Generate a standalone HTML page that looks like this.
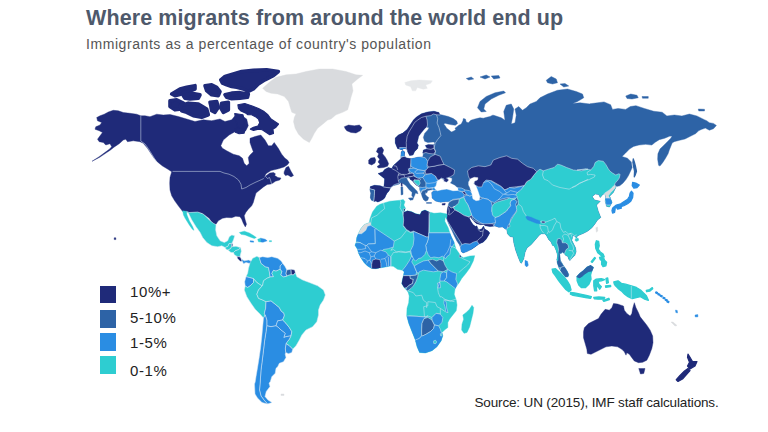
<!DOCTYPE html>
<html><head><meta charset="utf-8">
<style>
html,body{margin:0;padding:0;background:#fff;}
body{width:768px;height:432px;overflow:hidden;position:relative;font-family:"Liberation Sans",sans-serif;}
#title{position:absolute;left:86px;top:5.6px;font-size:21.5px;font-weight:bold;color:#4e596b;white-space:nowrap;line-height:24px;letter-spacing:.1px;}
#sub{position:absolute;left:86px;top:36.1px;font-size:14px;color:#555;white-space:nowrap;line-height:16px;letter-spacing:.57px;}
.lg{position:absolute;left:100.4px;width:16px;height:17.5px;}
.lt{position:absolute;left:130px;font-size:15px;letter-spacing:.6px;color:#222;line-height:16px;white-space:nowrap;}
#src{position:absolute;left:474.5px;top:395.2px;font-size:13.5px;color:#222;white-space:nowrap;line-height:16px;letter-spacing:-.15px;}
svg{position:absolute;left:0;top:0;filter:blur(.35px);}
</style></head><body>
<div id="title">Where migrants from around the world end up</div>
<div id="sub">Immigrants as a percentage of country's population</div>
<svg width="768" height="432" viewBox="0 0 768 432">
<defs><clipPath id="af"><path d="M376.7,206.2 380,204.3 383.3,203.2 390,201.2 400,200.3 403.3,199.5 405,201.7 403.8,205 405.5,208.3 403.8,212.3 407.5,210.7 411.7,211.7 415.8,213.7 420,214.5 421.7,211.2 425,210 429.2,212 434,213.3 440.7,212.8 445.7,213.7 448.2,214.2 447,219.5 445.3,217 444.8,221.2 448.2,227.8 449.8,232.8 451.5,237 454,242 455.8,248.5 459.2,253.5 460.8,256 463.3,257.7 470,256 474.7,255.7 473.3,261 470,267.7 465.8,273.5 461.7,278.5 459.2,282.7 456.7,286 455,289.3 454.2,294.3 456.2,300 457,305 456.2,310.8 452.8,315 449.5,319.2 447.8,322.5 447.8,327.5 444.5,330 442,332.5 442.8,335.8 441.2,340.8 437,346.7 432,350.8 425.3,353 419.5,352.5 417,346.7 415.3,340 412,331.7 408.7,323.3 406.7,315.8 407,308.3 408.7,302.7 409.2,296 408.3,292.7 406.7,290.2 404.2,287.7 401.7,283.5 402.5,279.3 403.3,276 404.2,271.8 402.5,270.2 397.5,269.3 393.3,266.3 390,266 386.7,266.8 380.8,267.8 375.8,268.7 371.7,268.5 367.5,266 364.2,262.7 360.8,257.7 358.3,252.7 357.5,249.3 355,245.3 356.3,242 356.7,237.8 358.3,233.7 360.8,228.7 364.2,224.5 369.2,222.8 370,218.7 372.5,212Z"/></clipPath><clipPath id="eu"><path d="M421.5,113.75 427.75,111.88 434,111.25 439,112.5 439.62,114.38 443.3,115.25 448.3,116.5 453.3,118.6 456.7,121.1 457.5,123.6 455.4,125.25 451.7,124.8 447.9,124 445,123.2 443.75,124 445.4,126.1 446.7,128.2 448.75,129.8 450.8,131.5 451.7,131.9 454.2,130.7 455.8,129.8 455,128.2 456.7,126.9 458.75,125.25 461.25,124 462.9,120.7 463.3,118.6 465.4,119 466.25,121.9 468.3,122.75 470.8,120.25 473.3,119.4 476.7,118.6 480,117.75 483.3,118.2 486.7,117.3 490,116.5 492.5,115.25 493.75,115.25 501.25,117.75 505,120.25 503.75,111.5 506.25,105.25 511.25,104 513.75,109 512.5,117.75 511.25,124 515,122.75 516.25,115.25 515,109 518.75,106.5 522.5,110.25 526.25,107.75 530,104 536.25,101.5 540,97.75 547.5,94 557.5,90.25 567.5,89 576.25,91.5 582.5,94 583.75,97.75 577.5,101.5 572.5,103.5 580,102.75 590,104 590,103.75 597.5,102.81 604.06,101.88 610.63,104.69 612.5,109.38 618.13,108.44 625.63,109.38 630.31,106.56 635.94,105.63 644.38,108.44 653.75,111.25 662.19,112.19 666.88,115.94 674.38,115 681.88,115.94 689.38,114.06 696.88,115.94 704.38,119.69 706.66,120.68 709.37,122.71 713.43,123.39 716.41,125.42 713.43,128.8 709.37,130.16 705.31,128.12 701.25,129.48 698.54,130.83 695.83,133.54 690.41,136.25 685,138.96 679.58,140.31 674.16,141.67 672.13,143.02 670.78,146.4 669.42,149.79 668.07,153.85 665.36,158.59 662.65,162.65 659.95,166.04 658.59,165.36 657.64,159.27 657.91,153.85 659.95,149.11 663.33,145.73 667.39,141.67 670.78,138.28 672.13,135.98 669.42,136.25 664.69,138.28 659.27,139.63 655.21,142.34 651.82,145.05 645.73,144.37 638.96,145.05 633.54,146.4 629.48,149.11 625.42,153.18 622.03,156.56 627.5,158.13 631.25,161.88 632.19,167.5 630.5,171.25 628.5,175.62 626,179.5 622.88,183.25 619.75,185.75 616.62,186.5 615.12,185.25 615.75,187.5 613.25,192.5 609.5,196.25 610,197 612,202.5 609.5,207 606.5,206.25 605.25,201.25 605.75,197 604.75,193.5 602.75,194.5 600.25,197.5 598.75,194.5 595.25,194 592.25,196.5 594.5,200 600.25,201.25 596.5,205 598.25,211.25 600.75,217.5 597.5,220 594.72,224.17 591.94,227.64 587.78,231.11 583.61,233.19 579.44,235 577.36,235.97 576.39,238.06 574.58,235.97 573.19,235.28 572.38,238 571.75,240.25 573.62,244 575.5,247.75 576.12,251.5 574.88,255.25 572.38,257.75 569.88,260.5 568.62,259 568,256.5 565.5,255.25 564.25,253.38 562.38,252.12 561.12,253.38 559.5,253 560,256.5 560.25,260.25 561.75,262.75 563.62,265.88 565.5,268.38 567.38,271.5 568.75,274.62 568,276.75 565.5,277.12 563,274 560.75,270.88 558.62,267.12 557.25,262.75 556.88,259.62 557.62,256.5 557.38,254.62 556.12,250.25 554.25,245.88 552.38,245.25 551.12,242.12 548.62,239.62 546.75,235.88 545,233.75 541.25,233.75 539.38,235 536.25,238.75 531.25,244.38 526.88,248.12 525,252.5 523.75,258.75 521.5,263.25 520.38,262.5 518.12,256.88 515.62,250 513.75,242.5 513.12,237.12 510,236.5 507.5,233.75 506.88,230 502.5,226.88 498.75,227.25 495,226 490,226.62 485.25,225.75 483.75,224.38 480.62,224.75 476.25,223.5 473.12,220.38 470,216.62 469.38,217.88 470.62,221 473.12,224.75 475.62,226.62 476.88,225.75 477.75,228.5 479.38,229.75 481.88,228.75 483.5,226 484.75,229.12 488.12,231 489.75,232.88 488.12,236 486.25,239.12 483.12,242.25 478.75,244.12 476.25,246 471.88,249.12 466.88,251.62 463.12,252.88 461.25,251.62 460.62,247.88 459.38,244.75 456.88,241 454.38,236 451.88,230.38 449.38,225.38 447.5,221 446.88,218.5 447.5,215.75 447,211.88 447.75,207.5 448.62,203.75 449.88,201.5 448,201.75 445.5,201.62 440.5,202.25 435.5,201 432.12,198 431.75,192.5 434.62,190.25 432.5,189.75 430.25,190 427.75,190.62 426.75,193.12 425.5,192.25 425.25,194.38 427.12,196.5 428.75,197.5 427.75,200.25 425.88,201.25 423.75,200 422.25,196.88 421.12,193.12 419.75,190 419.62,187.5 418.38,186.25 416.5,185.25 414,182.75 412.12,180.62 410.25,179.38 409.62,178.12 408.38,177.75 406.5,178.12 407.75,180.62 410.25,184.38 414,188.12 417.12,191.25 418,193.75 415.5,193.12 414.62,195.62 413.38,198.12 411.75,195.62 412.12,192.5 409,189.38 405.88,185.62 402.75,183.5 400.25,182.75 399.5,183.88 396.75,184.75 393,185.75 390.5,187.75 389,190.88 387.12,193.12 385.75,195.5 384.88,197.75 383,199.62 380.25,201 377.75,202 375.88,201 374.5,201.5 371.25,200.12 370.38,197.38 370.88,193.12 369.88,189.88 370.38,186.62 374.5,185.25 380.12,185.75 383.75,187.12 384.38,183.12 384.62,178.75 381.5,176.25 378,173.5 382.75,171.88 384.62,169.38 388.38,167.5 391.75,168.5 393.38,165.62 396.75,162.5 398.38,161 400.88,158.75 400.88,155.62 401.25,151.88 402.75,150.62 404.62,151.88 404.25,155.62 405.88,157.75 409.62,158.5 412.12,158.5 417.75,157.25 422.75,156.88 423.38,153.75 422.75,153.12 423.38,150 427.12,148.75 425.25,145.62 428.38,144.38 433.38,144.75 435.25,143.12 433.38,141.88 427.75,142.5 424.62,141.25 423.38,137.5 424.62,133.38 427.75,129.88 429.12,127.75 426.38,127.12 424.25,129.12 421.5,132.62 418.75,136.12 418,139.62 417,143 418.38,145.25 417.5,148.75 414.62,151.5 413,155 409.62,155.62 407.75,151.88 406.75,149 404.25,148.5 401.75,149.75 397.5,148.5 395.25,143.12 395.25,138.12 398.38,135 402.75,133.12 407.12,129.38 410.88,123.75 413.38,120 416.5,116.88Z"/></clipPath></defs>
<path d="M140.8,115.8 136.7,114.2 130,113.3 123.3,112.5 118.3,110.8 113.3,110.3 108.3,112 104.2,114.2 100,115.8 96.7,117.5 97.5,120.8 101.7,122.5 100,125 95.8,126.7 95,129.2 99.2,130.8 102.5,132.5 100,135.8 97.5,139.2 99.2,141.7 103.3,142.5 105.8,145 110,143.7 111.7,146.7 109.3,149.3 104.8,152.6 98.8,156.9 92,161.3 99.3,157.5 105.2,153.6 110.2,150.2 114,147.2 119.2,143.7 123.3,140 125.8,139.2 127.5,141.7 133.3,140.8 140,141.7 143.3,143.3 147.5,148.3 150.8,153.3 154.2,158.3 157.5,162 162.5,166 167.5,169 171.7,171.7 170,177.5 169.7,183.3 170,190 171.7,195.8 174.7,200.8 178.3,205.8 182.5,211.3 190,212.5 196.7,212 201.7,213 205.8,215.8 209.2,218.3 212.5,223 215.8,224.5 218.3,220.8 222.5,218.3 226.7,217.5 231.7,217.7 235.8,216.3 240,216.7 241.7,219.2 243.3,223.3 245.3,226.9 246.5,224.2 245.2,220 244.2,215.8 245.8,212.5 248.3,209.2 251.7,205.8 253.3,202.5 254.2,199.2 256,193.1 259.75,190 263.5,186.9 267.25,184.4 271,184 272.9,183.1 275.4,181.25 279.75,180 281,178.1 277.9,177.5 274.75,175.6 275.4,173.75 273.5,172.5 269.75,173.1 265.4,176.25 263.8,178.5 266,173.75 271,170.6 278.5,168.75 284.1,166.9 287.5,164.75 289.1,162.5 287.5,160 285,158.3 281.7,154.2 278.3,148.3 274.2,142.5 271.7,145.8 268.3,145.8 265,140 260.8,135 255,136.5 250,138.3 250,142.5 251.7,147.5 253.3,151.7 250,155 248.3,157.5 249.2,163.3 246.7,165.8 244.2,163.3 242.5,158.3 239.2,155.8 233.3,154.2 226.7,150.8 222.5,148.3 220.8,145.8 223.3,140 229.2,135 235,131.7 242.5,133.3 245.8,130.7 248.3,125.7 246.7,119 241.7,115.7 240,122.3 238.3,119 235,115.7 231.7,119.8 225,121.5 220,119 211.7,120.7 203.3,119.8 195,121.5 186.7,119 178.3,116.5 170,114.5 163.3,115 156.7,114.2 150,116.7 145,115.8Z" fill="#1f2a79" stroke="#1f2a79" stroke-width="0.4" stroke-linejoin="round"/>
<path d="M140.8,115.8 140.8,141 145,144 148.3,148.5 151.7,154 154.5,158.5 156.5,162" fill="none" stroke="#d9e8f3" stroke-opacity=".85" stroke-width=".6" stroke-linejoin="round"/>
<path d="M172.5,171.4 220,171.4 224,173 229,174.2 234,176.5 238.5,180 241,184.2 241.7,189 246,187.5 250,185 255,182.5 261.7,179.5 263.8,178.5" fill="none" stroke="#d9e8f3" stroke-opacity=".85" stroke-width=".6" stroke-linejoin="round"/>
<path d="M265.4,176.25 267.5,178.5 269.5,177.5 270.5,180 271.5,183.8" fill="none" stroke="#d9e8f3" stroke-opacity=".85" stroke-width=".6" stroke-linejoin="round"/>
<path d="M284.1,171.9 286,167.5 288.5,166.25 291,171.25 293.5,175.6 291,176.9 287.9,175 285.4,175.6 284.1,173.75Z" fill="#1f2a79" stroke="#1f2a79" stroke-width="0.4" stroke-linejoin="round"/>
<path d="M262.67,88.17 269.33,82.33 276,77.33 286,74.83 296,74 306,71.5 319.33,69 332.67,69 346,71.5 356,74.83 362.67,75.33 357.67,79 351.83,84 353,90.67 351,97.33 349.33,104 347.67,109.83 342.67,112.33 336,114.83 331,119 327.67,120 322.67,124.17 317.67,128.33 314.33,133.33 311.83,138.33 309.33,142.5 303.5,139.17 298.5,134.17 295.17,128.33 293.5,121.67 294.33,117.33 296,114 291.83,112.33 290.17,107.33 288.5,101.5 284.33,96.5 277.67,94 271,93.17 266,91.5Z" fill="#d9dbde" stroke="#d9dbde" stroke-width="0.4" stroke-linejoin="round"/>
<path d="M344.33,126.67 348.5,125 354.33,125.83 359.33,125 362,127.5 360.17,130.83 356,133 351,132.5 346.83,130.83 345.17,128.67Z" fill="#1f2a79" stroke="#1f2a79" stroke-width="0.4" stroke-linejoin="round"/>
<path d="M220.83,79.83 225,76.5 233.33,74 241.67,71.5 253.33,70.33 266.67,69.83 278.33,71.5 273.33,75.67 265,79.83 258.33,84 253.33,89 248.33,91.5 243.33,89 236.67,87.33 231.67,86.5 226.67,84.83 222.5,83.17Z" fill="#1f2a79" stroke="#1f2a79" stroke-width="3.6" stroke-linejoin="round"/>
<path d="M225,94.83 231.67,93.17 240,92.67 248.33,94 247.5,97.33 240,98.17 231.67,98.67 226.67,97.33Z" fill="#1f2a79" stroke="#1f2a79" stroke-width="3.6" stroke-linejoin="round"/>
<path d="M171.67,94 180,89 186.67,87.33 195,85.67 195,89 188.33,91.5 181.67,94 175,95.67Z" fill="#1f2a79" stroke="#1f2a79" stroke-width="3.6" stroke-linejoin="round"/>
<path d="M183.33,95.67 191.67,93.17 200,94.83 198.33,98.17 190,99 185,98.17Z" fill="#1f2a79" stroke="#1f2a79" stroke-width="3.6" stroke-linejoin="round"/>
<path d="M205,85.67 211.67,84.83 216.67,87.33 220,91.5 218.33,95.67 211.67,94.83 206.67,90.67Z" fill="#1f2a79" stroke="#1f2a79" stroke-width="3.6" stroke-linejoin="round"/>
<path d="M170,100.67 176.67,99.83 183.33,103.17 181.67,109 175,109.83 170,106.5Z" fill="#1f2a79" stroke="#1f2a79" stroke-width="3.6" stroke-linejoin="round"/>
<path d="M180,105.67 188.33,103.17 198.33,104 206.67,109 208.33,114.83 201.67,117.33 193.33,115.67 186.67,112.33 181.67,110.67Z" fill="#1f2a79" stroke="#1f2a79" stroke-width="3.6" stroke-linejoin="round"/>
<path d="M210,102.33 216.67,101.5 218.33,107.33 215,112.33 211.67,110.67 210.83,105.67Z" fill="#1f2a79" stroke="#1f2a79" stroke-width="3.6" stroke-linejoin="round"/>
<path d="M221.67,103.17 228.33,102.33 228.33,109.83 223.33,112.33 220.83,108.17Z" fill="#1f2a79" stroke="#1f2a79" stroke-width="3.6" stroke-linejoin="round"/>
<path d="M237.88,104.75 244.75,103.5 252.25,106 258.5,108.5 264.12,111.62 267.88,114.75 271,119.12 274.75,121.62 278.5,124.12 276,127.25 272.88,129.12 273.5,133.5 269.75,134.75 266,132.25 262.25,129.75 258.5,129.12 253.5,130.38 250.38,129.12 253.5,127.25 257.88,126 259.75,122.88 258.5,119.12 255.38,116.62 251.62,114.75 247.88,114.75 245.38,112.88 241,111 238.5,108.5Z" fill="#1f2a79" stroke="#1f2a79" stroke-width="1.2" stroke-linejoin="round"/>
<path d="M234.75,128.75 239.75,127.88 244.75,129.75 244.12,133.25 239.12,133.75 235.38,132.25Z" fill="#1f2a79" stroke="#1f2a79" stroke-width="1.2" stroke-linejoin="round"/>
<path d="M234.75,113.5 242.88,114.75 244.5,121 242.88,127.88 237.88,127.25 236,121Z" fill="#1f2a79" stroke="#1f2a79" stroke-width="1.2" stroke-linejoin="round"/>
<path d="M186.33,211.33 189.33,212.5 197.67,212 203.5,214.17 206.83,217.5 210.17,220.83 213.5,223.33 216,224.67 215.67,230 216.83,235.83 220.17,240.83 224.33,242.5 227.67,240.83 229.33,236.67 231.83,235 234.67,235.83 233.67,239.17 232,243.33 229,243.67 228,246.33 225.17,247.5 221.83,245.83 217.67,246.67 211.83,245.83 206.83,242.5 202.67,237.5 200.17,232.5 196,226.67 191.83,220 188.5,213.33Z" fill="#2ecdd1" stroke="#d9e8f3" stroke-opacity=".85" stroke-width=".6" stroke-linejoin="round"/>
<path d="M182.67,210.83 186.33,211.33 187,215 189.33,220.83 192.67,226.67 194,230.33 192.33,229.17 189.33,225 185.17,218.33 183.5,215Z" fill="#2ecdd1" stroke="#2ecdd1" stroke-width="0.4" stroke-linejoin="round"/>
<path d="M225.17,247.5 228,246.33 229,243.67 232,243.33 231.67,246.67 230.67,248.67 228,250 226,249.17Z" fill="#2ecdd1" stroke="#d9e8f3" stroke-opacity=".85" stroke-width=".6" stroke-linejoin="round"/>
<path d="M231.67,243.67 232.83,243.67 232.67,246.67 231.67,247Z" fill="#1f2a79" stroke="#d9e8f3" stroke-opacity=".85" stroke-width=".6" stroke-linejoin="round"/>
<path d="M231.67,246.67 236,246.33 240.67,247.67 238.5,249.67 235.17,250.83 233.5,252.5 231,252.5 228,250 230.67,248.67Z" fill="#2ecdd1" stroke="#d9e8f3" stroke-opacity=".85" stroke-width=".6" stroke-linejoin="round"/>
<path d="M233.5,252.5 235.17,250.83 238.5,249.67 240.67,247.67 241.33,251.33 240.33,255 240.17,257 236.83,256.33 234.33,254.67Z" fill="#2ecdd1" stroke="#d9e8f3" stroke-opacity=".85" stroke-width=".6" stroke-linejoin="round"/>
<path d="M236.83,256.33 240.17,257 241.33,259 242.33,261.33 240.17,261.33 237.67,258.67Z" fill="#1f2a79" stroke="#d9e8f3" stroke-opacity=".85" stroke-width=".6" stroke-linejoin="round"/>
<path d="M241.33,259 244.33,260.83 248.5,260 251.83,261.33 252.67,263 250.67,263.67 249,263.33 246,262.5 243.5,263.67 242.33,261.33Z" fill="#2a8de3" stroke="#d9e8f3" stroke-opacity=".85" stroke-width=".6" stroke-linejoin="round"/>
<path d="M239.33,232.5 244.33,231.17 249.33,233 253.5,235.5 256.33,237.5 254.33,238.5 250.17,237 245.17,235 241,234.33Z" fill="#2ecdd1" stroke="#2ecdd1" stroke-width="0.4" stroke-linejoin="round"/>
<path d="M257.67,239.33 260.67,238.17 261,242 258.5,241.83Z" fill="#2ecdd1" stroke="#2ecdd1" stroke-width="0.4" stroke-linejoin="round"/>
<path d="M260.67,238.17 265.17,239.17 267.17,240.83 263,242.17 261,242Z" fill="#2a8de3" stroke="#2a8de3" stroke-width="0.4" stroke-linejoin="round"/>
<path d="M250,240.83 253.5,241 253.67,242.17 250.33,242Z" fill="#2a8de3" stroke="#2a8de3" stroke-width="0.4" stroke-linejoin="round"/>
<path d="M269.33,240.67 271.5,240.67 271.5,241.67 269.33,241.67Z" fill="#2ecdd1" stroke="#2ecdd1" stroke-width="0.4" stroke-linejoin="round"/>
<path d="M114.2,237.8 115.8,237.8 115.9,239.6 114.2,239.6Z" fill="#1f2a79" stroke="#1f2a79" stroke-width="0.4" stroke-linejoin="round"/>
<path d="M250.17,262.5 252.67,258.33 256.83,256.33 259.33,257.5 261,263.33 265.17,266.67 268.5,267.5 269.33,271.67 270.17,277 266.83,278.33 263.5,280.83 262.67,285.33 261.83,285.83 256.83,282.5 253.5,278.67 249.33,277.5 246,276.67 247.67,273.33 248.5,268.33Z" fill="#2ecdd1" stroke="#d9e8f3" stroke-opacity=".85" stroke-width=".6" stroke-linejoin="round"/>
<path d="M246,276.67 249.33,277.5 253.5,278.67 253.5,282.5 250.17,285.83 247.67,287.5 245.17,286 244.67,281.67Z" fill="#2a8de3" stroke="#d9e8f3" stroke-opacity=".85" stroke-width=".6" stroke-linejoin="round"/>
<path d="M259.33,257.5 262.67,256.67 267.67,257.5 271.83,256.67 277.67,258.33 281,260.83 282.67,263.33 280.17,265.83 280.17,269.17 278.5,270 276,271.17 273.5,270.33 271.83,273.33 273.5,276.67 270.17,277 269.33,271.67 268.5,267.5 265.17,266.67 261,263.33Z" fill="#2a8de3" stroke="#d9e8f3" stroke-opacity=".85" stroke-width=".6" stroke-linejoin="round"/>
<path d="M282.67,263.33 285.17,266.67 286.83,270 286,273.33 286.83,276.17 283.5,277 280.67,275 281.83,271.67 280.17,269.17 280.17,265.83Z" fill="#2a8de3" stroke="#d9e8f3" stroke-opacity=".85" stroke-width=".6" stroke-linejoin="round"/>
<path d="M286.83,270 291,269.17 291.33,274.67 288.5,275.33 286.83,276.17 286,273.33Z" fill="#2d63a6" stroke="#d9e8f3" stroke-opacity=".85" stroke-width=".6" stroke-linejoin="round"/>
<path d="M291,269.17 294.67,270 295.33,272.67 293.5,275 291.33,274.67Z" fill="#1f2a79" stroke="#d9e8f3" stroke-opacity=".85" stroke-width=".6" stroke-linejoin="round"/>
<path d="M245.17,286 247.67,287.5 250.17,285.83 253.5,282.5 253.5,278.67 256.83,282.5 261.83,285.83 262.67,285.33 258.5,290 256.83,294.17 258.5,298.33 262.67,300 266,301.67 265.67,308.33 264.33,313.33 265.17,315 263.5,318 260.17,314.17 255.17,309.17 251,303.33 246.83,296.67 244.33,290Z" fill="#2ecdd1" stroke="#d9e8f3" stroke-opacity=".85" stroke-width=".6" stroke-linejoin="round"/>
<path d="M266,301.67 271,300.83 275.17,304.17 279.33,307.5 281,310.83 284,313.33 284.33,315.83 282.67,320 277.67,320.83 276,325.83 271,326.67 266.83,325.83 266.83,320 265.17,315 264.33,313.33 265.67,308.33Z" fill="#2a8de3" stroke="#d9e8f3" stroke-opacity=".85" stroke-width=".6" stroke-linejoin="round"/>
<path d="M277.67,320.83 282.67,320 286,323.33 289.33,327.5 291.83,331.67 291,335.83 286,336.67 283.83,337.5 285.17,333.33 281,330 278.5,327.5 276,325.83Z" fill="#2a8de3" stroke="#d9e8f3" stroke-opacity=".85" stroke-width=".6" stroke-linejoin="round"/>
<path d="M295.33,272.67 296.83,276.67 302.67,280 309.33,282.5 317.67,285.83 323.5,290 325.33,295 323.5,300 320.17,305 318.5,310 318.5,315 316.83,321.67 312.67,326.67 306,330 301.83,335 299.33,340 296,345.83 292.67,349.17 289.33,345.83 286,343.33 289.33,339.17 291,335.83 291.83,331.67 289.33,327.5 286,323.33 282.67,320 284.33,315.83 284,313.33 281,310.83 279.33,307.5 275.17,304.17 271,300.83 266,301.67 262.67,300 258.5,298.33 256.83,294.17 258.5,290 262.67,285.33 263.5,280.83 266.83,278.33 270.17,277 273.5,276.67 271.83,273.33 273.5,270.33 276,271.17 278.5,270 280.17,269.17 281.83,271.67 280.67,275 283.5,277 286.83,276.17 288.5,275.33 291.33,274.67 293.5,275Z" fill="#2ecdd1" stroke="#d9e8f3" stroke-opacity=".85" stroke-width=".6" stroke-linejoin="round"/>
<path d="M286,343.67 289.33,345.83 292.67,349.17 291.83,352.5 288.5,353.67 285.67,352.5 285.33,348.33Z" fill="#2a8de3" stroke="#d9e8f3" stroke-opacity=".85" stroke-width=".6" stroke-linejoin="round"/>
<path d="M266.8,325.8 271,326.7 276,325.8 278.5,327.5 281,330 285.2,333.3 283.8,337.5 286,336.7 291,335.8 289.3,339.2 286,343.5 285.3,348.5 285.7,352.5 285.2,354.2 286,357.5 283.5,361.7 279.3,363.3 277.7,366.7 276,368.3 275.2,373.3 271.8,376.7 270.2,382 269,383 270,386.5 266.25,391.5 265,396.5 268,400 272,402.5 267.5,404 264,400 261,396 259.5,390 260.2,382 261,370 262.3,360 263.5,350 264.7,340 266,331.7Z" fill="#2a8de3" stroke="#d9e8f3" stroke-opacity=".85" stroke-width=".6" stroke-linejoin="round"/>
<path d="M263.5,318 265.2,315 266.8,320 266.8,325.8 266,331.7 264.7,340 263.5,350 262.3,360 261,370 260.2,382 259.5,390 261,396 264,400 267.5,404 262,402.5 257.5,398 255,394 254.5,384 255.2,382 256,376.7 257.7,366.7 259.3,356.7 260.7,346.7 261.8,336.7 262.7,326.7Z" fill="#2a8de3" stroke="#d9e8f3" stroke-opacity=".85" stroke-width=".6" stroke-linejoin="round"/>
<path d="M281,394 284,394 284,395.5 281,395.5Z" fill="#d9dbde" stroke="#d9dbde" stroke-width="0.4" stroke-linejoin="round"/>
<path d="M376.7,206.2 380,204.3 383.3,203.2 390,201.2 400,200.3 403.3,199.5 405,201.7 403.8,205 405.5,208.3 403.8,212.3 407.5,210.7 411.7,211.7 415.8,213.7 420,214.5 421.7,211.2 425,210 429.2,212 434,213.3 440.7,212.8 445.7,213.7 448.2,214.2 447,219.5 445.3,217 444.8,221.2 448.2,227.8 449.8,232.8 451.5,237 454,242 455.8,248.5 459.2,253.5 460.8,256 463.3,257.7 470,256 474.7,255.7 473.3,261 470,267.7 465.8,273.5 461.7,278.5 459.2,282.7 456.7,286 455,289.3 454.2,294.3 456.2,300 457,305 456.2,310.8 452.8,315 449.5,319.2 447.8,322.5 447.8,327.5 444.5,330 442,332.5 442.8,335.8 441.2,340.8 437,346.7 432,350.8 425.3,353 419.5,352.5 417,346.7 415.3,340 412,331.7 408.7,323.3 406.7,315.8 407,308.3 408.7,302.7 409.2,296 408.3,292.7 406.7,290.2 404.2,287.7 401.7,283.5 402.5,279.3 403.3,276 404.2,271.8 402.5,270.2 397.5,269.3 393.3,266.3 390,266 386.7,266.8 380.8,267.8 375.8,268.7 371.7,268.5 367.5,266 364.2,262.7 360.8,257.7 358.3,252.7 357.5,249.3 355,245.3 356.3,242 356.7,237.8 358.3,233.7 360.8,228.7 364.2,224.5 369.2,222.8 370,218.7 372.5,212Z" fill="#2ecdd1" stroke="#2ecdd1" stroke-width=".4" stroke-linejoin="round"/>
<path d="M369.17,222.83 370.83,222.83 370.83,225.33 367.5,226.17 365.83,230.33 361.67,233.67 356.67,234 355,232 360.83,227.83 364.17,223.67 369.17,221.67Z" fill="#d9dbde" stroke="#d9e8f3" stroke-opacity=".85" stroke-width=".6" stroke-linejoin="round" clip-path="url(#af)"/>
<path d="M355,233.67 361.67,233.67 365.83,230.33 367.5,226.17 370.83,225.33 375.83,228.67 375,229.5 375.33,243.67 368.33,244 365.83,246.17 363.33,245 360.83,242.83 357.5,242 355,242Z" fill="#2a8de3" stroke="#d9e8f3" stroke-opacity=".85" stroke-width=".6" stroke-linejoin="round" clip-path="url(#af)"/>
<path d="M375.83,228.67 390.83,238.67 394.17,241.17 393.33,247 388.33,248.67 383.33,249.5 380,252.83 377.5,256.17 374.17,257 371.67,254.5 369.17,253.67 367.5,249.5 365.83,246.17 368.33,244 375.33,243.67 375,229.5Z" fill="#2a8de3" stroke="#d9e8f3" stroke-opacity=".85" stroke-width=".6" stroke-linejoin="round" clip-path="url(#af)"/>
<path d="M353.33,242.67 360,242.67 365,245.17 367.5,246 371.67,251.83 375.83,252.67 380.83,250.17 385.83,251.83 388.33,255.17 390.83,256.83 390.83,266.33 390,269.33 353.33,269.33Z" fill="#2a8de3" stroke="#d9e8f3" stroke-opacity=".85" stroke-width=".6" stroke-linejoin="round" clip-path="url(#af)"/>
<path d="M356.67,249.33 361.67,249.33 365.83,248.5 365,245.17" fill="none" stroke="#d9e8f3" stroke-opacity=".85" stroke-width=".6" stroke-linejoin="round" clip-path="url(#af)"/>
<path d="M357.5,252.67 360.83,252.67 365,251 369.17,252.67 371.67,251.83" fill="none" stroke="#d9e8f3" stroke-opacity=".85" stroke-width=".6" stroke-linejoin="round" clip-path="url(#af)"/>
<path d="M360.83,257.67 365,258.5 367.5,261 366.67,263.5" fill="none" stroke="#d9e8f3" stroke-opacity=".85" stroke-width=".6" stroke-linejoin="round" clip-path="url(#af)"/>
<path d="M367.5,261 370,260.17 371.67,264.33 372.5,268.5" fill="none" stroke="#d9e8f3" stroke-opacity=".85" stroke-width=".6" stroke-linejoin="round" clip-path="url(#af)"/>
<path d="M369.17,252.67 370.83,256.83 370,260.17" fill="none" stroke="#d9e8f3" stroke-opacity=".85" stroke-width=".6" stroke-linejoin="round" clip-path="url(#af)"/>
<path d="M370.83,256.83 374.17,256 375.83,252.67" fill="none" stroke="#d9e8f3" stroke-opacity=".85" stroke-width=".6" stroke-linejoin="round" clip-path="url(#af)"/>
<path d="M374.17,256 375.83,259" fill="none" stroke="#d9e8f3" stroke-opacity=".85" stroke-width=".6" stroke-linejoin="round" clip-path="url(#af)"/>
<path d="M380.83,259.33 385,258.5 388.33,255.17" fill="none" stroke="#d9e8f3" stroke-opacity=".85" stroke-width=".6" stroke-linejoin="round" clip-path="url(#af)"/>
<path d="M385,258.5 386.33,262.67 387,267.33" fill="none" stroke="#d9e8f3" stroke-opacity=".85" stroke-width=".6" stroke-linejoin="round" clip-path="url(#af)"/>
<path d="M388.33,256.83 388.67,267.33" fill="none" stroke="#d9e8f3" stroke-opacity=".85" stroke-width=".6" stroke-linejoin="round" clip-path="url(#af)"/>
<path d="M372.5,260.17 375.83,259 380,259.67 380.83,263.5 381,269.33 371.67,269.33 371.67,264.33Z" fill="#1f2a79" stroke="#d9e8f3" stroke-opacity=".85" stroke-width=".6" stroke-linejoin="round" clip-path="url(#af)"/>
<path d="M390.83,266.33 390.83,256.83 393.33,252.67 398.33,251.83 405,252.67 410,251.83 411.67,256" fill="none" stroke="#d9e8f3" stroke-opacity=".85" stroke-width=".6" stroke-linejoin="round" clip-path="url(#af)"/>
<path d="M394.17,241.17 400.83,237.83 406.67,230.33 410.83,232.83 413.33,232" fill="none" stroke="#d9e8f3" stroke-opacity=".85" stroke-width=".6" stroke-linejoin="round" clip-path="url(#af)"/>
<path d="M393.33,247 390.83,250.33 393.33,249.5 396.67,252 400.83,251.17 405.83,252 410.83,251.17 413.33,246.17" fill="none" stroke="#d9e8f3" stroke-opacity=".85" stroke-width=".6" stroke-linejoin="round" clip-path="url(#af)"/>
<path d="M370.83,222.83 371.67,217.83 377,215.33 380.83,211.67 384.67,208.67 383.33,202" fill="none" stroke="#d9e8f3" stroke-opacity=".85" stroke-width=".6" stroke-linejoin="round" clip-path="url(#af)"/>
<path d="M400,199.5 400.83,202.83 400,207.83 402.5,212 404.17,212.83" fill="none" stroke="#d9e8f3" stroke-opacity=".85" stroke-width=".6" stroke-linejoin="round" clip-path="url(#af)"/>
<path d="M402.5,212 403.33,216.17 404.17,221.17 403.33,226.17 406.67,230.33" fill="none" stroke="#d9e8f3" stroke-opacity=".85" stroke-width=".6" stroke-linejoin="round" clip-path="url(#af)"/>
<path d="M403.17,215.33 403.67,208.67 430.67,208.67 429.33,215.33 428.67,237 426.5,237 413.17,231.17 410.67,232 406.5,229.5 403.17,225.33 403.67,220.33Z" fill="#1f2a79" stroke="#d9e8f3" stroke-opacity=".85" stroke-width=".6" stroke-linejoin="round" clip-path="url(#af)"/>
<path d="M429,212 429.33,232.83 450.67,232.83" fill="none" stroke="#d9e8f3" stroke-opacity=".85" stroke-width=".6" stroke-linejoin="round" clip-path="url(#af)"/>
<path d="M428.67,232.83 454,232.83 455.67,242 453.17,245.33 450.67,248.67 449.83,254.5 447.33,256.17 445.67,258.67 442.33,256.17 439,257.83 434,257 430.67,257.83 428.17,254.5 426.5,250.33 425.67,245.33 427.33,242 428.67,237Z" fill="#2a8de3" stroke="#d9e8f3" stroke-opacity=".85" stroke-width=".6" stroke-linejoin="round" clip-path="url(#af)"/>
<path d="M413.17,231.17 426.5,237 428.67,237 427.33,242 425.67,245.33 426.5,250.33 424.83,254.5 421.5,257.83 418.17,258.67 415.67,261.17 413.17,258.67 411.5,254.5 410.67,250.33 413.17,245.33 414,238.67Z" fill="#2a8de3" stroke="#d9e8f3" stroke-opacity=".85" stroke-width=".6" stroke-linejoin="round" clip-path="url(#af)"/>
<path d="M411.67,256 413.33,258.5 411.67,261.83 414.17,266 416.67,271.83 415.83,275.17 410,275.67 403.33,275.67 401.67,271.83 402.5,270.17 405.83,266 409.17,261Z" fill="#2a8de3" stroke="#d9e8f3" stroke-opacity=".85" stroke-width=".6" stroke-linejoin="round" clip-path="url(#af)"/>
<path d="M414.17,266 418.33,263.5 423.33,261 428.33,260.17 430.83,263.5 435.83,268.5 438.33,271 433.33,271.83 428.33,271 423.33,270.17 419.17,271.83 418.33,273.5 416.67,271.83Z" fill="#2a8de3" stroke="#d9e8f3" stroke-opacity=".85" stroke-width=".6" stroke-linejoin="round" clip-path="url(#af)"/>
<path d="M428.33,260.17 432.5,259.33 436.67,261 440,259.33 443.33,261 445,265.17 447.5,269.33 443.33,271.83 438.33,271 435.83,268.5 430.83,263.5Z" fill="#2d63a6" stroke="#d9e8f3" stroke-opacity=".85" stroke-width=".6" stroke-linejoin="round" clip-path="url(#af)"/>
<path d="M400,275.67 410,275.67 410.33,278.5 413.33,279.33 412.5,283.5 409.17,285.17 406.67,287.67 404.17,288 400,284.33Z" fill="#1f2a79" stroke="#d9e8f3" stroke-opacity=".85" stroke-width=".6" stroke-linejoin="round" clip-path="url(#af)"/>
<path d="M410,275.67 415.83,275.17 418.33,273.5 417.5,277.67 415.83,281.83 413.33,286 410.83,288.5 407.5,291 405.83,289.67 406.67,287.67 409.17,285.17 412.5,283.5 413.33,279.33 410.33,278.5Z" fill="#2d63a6" stroke="#d9e8f3" stroke-opacity=".85" stroke-width=".6" stroke-linejoin="round" clip-path="url(#af)"/>
<path d="M440.83,273.5 443.33,271.83 446.67,272.67 446.67,277.67 444.17,281 440,281 440,278.5Z" fill="#2a8de3" stroke="#d9e8f3" stroke-opacity=".85" stroke-width=".6" stroke-linejoin="round" clip-path="url(#af)"/>
<path d="M446.67,272.67 447.5,269.33 451.67,271.83 456.67,273.5 455.83,279.33 457.5,283.5 456.67,289.33 454.17,287.67 446.67,281.83 444.17,281 446.67,277.67Z" fill="#2a8de3" stroke="#d9e8f3" stroke-opacity=".85" stroke-width=".6" stroke-linejoin="round" clip-path="url(#af)"/>
<path d="M437.5,283 440,282.33 440.5,287.67 438,288Z" fill="#2a8de3" stroke="#d9e8f3" stroke-opacity=".85" stroke-width=".6" stroke-linejoin="round" clip-path="url(#af)"/>
<path d="M443.33,261 444.17,256 447.5,251.83 450,246 450.83,239.33" fill="none" stroke="#d9e8f3" stroke-opacity=".85" stroke-width=".6" stroke-linejoin="round" clip-path="url(#af)"/>
<path d="M450,246 455,247.67 460,252.67 462.5,254.67" fill="none" stroke="#d9e8f3" stroke-opacity=".85" stroke-width=".6" stroke-linejoin="round" clip-path="url(#af)"/>
<path d="M460,256.83 462.5,258.5 470,261.83 467.5,265.17 463.33,268.5 458.67,272.67" fill="none" stroke="#d9e8f3" stroke-opacity=".85" stroke-width=".6" stroke-linejoin="round" clip-path="url(#af)"/>
<path d="M459.33,254.67 461.33,255.33 461,257.67 459.33,257.33Z" fill="#1f2a79" stroke="#d9e8f3" stroke-opacity=".85" stroke-width=".6" stroke-linejoin="round" clip-path="url(#af)"/>
<path d="M407.5,290.67 413.33,292.67 415.83,296 421.67,295.17 423.33,300.17 426.67,302.67 426.67,308" fill="none" stroke="#d9e8f3" stroke-opacity=".85" stroke-width=".6" stroke-linejoin="round" clip-path="url(#af)"/>
<path d="M440,281 438.33,286 437.5,287.67 438.33,292.67 440,296.83 441.67,296.83 445,299.33 450,301 456.67,299" fill="none" stroke="#d9e8f3" stroke-opacity=".85" stroke-width=".6" stroke-linejoin="round" clip-path="url(#af)"/>
<path d="M408.67,315.83 417,316.33 424.5,317 427.83,316 432,317.5" fill="none" stroke="#d9e8f3" stroke-opacity=".85" stroke-width=".6" stroke-linejoin="round" clip-path="url(#af)"/>
<path d="M424.5,317 423.67,306.67 427.83,305.83 427.83,301.67 435.33,302.5 437,306.67 440.33,308.33 445.33,311.67" fill="none" stroke="#d9e8f3" stroke-opacity=".85" stroke-width=".6" stroke-linejoin="round" clip-path="url(#af)"/>
<path d="M432,317.5 436.17,313.33 440.33,314.17 440.33,308.33" fill="none" stroke="#d9e8f3" stroke-opacity=".85" stroke-width=".6" stroke-linejoin="round" clip-path="url(#af)"/>
<path d="M444.5,300 454.5,301.67" fill="none" stroke="#d9e8f3" stroke-opacity=".85" stroke-width=".6" stroke-linejoin="round" clip-path="url(#af)"/>
<path d="M444.17,299.67 446.17,302 446.67,308 448,312.67 445.83,312 445,306.67 443.83,303.33Z" fill="#2a8de3" stroke="#d9e8f3" stroke-opacity=".85" stroke-width=".6" stroke-linejoin="round" clip-path="url(#af)"/>
<path d="M403.67,315.83 417,316.33 424.5,317 427.83,316 424,318.67 422,323.33 421.67,330 421.67,335.83 419.5,338.33 417,340 415.33,343.33 405.33,343.33Z" fill="#2a8de3" stroke="#d9e8f3" stroke-opacity=".85" stroke-width=".6" stroke-linejoin="round" clip-path="url(#af)"/>
<path d="M424,318.67 427.83,317.5 432,320 434.5,325 433.67,328.33 430.33,331.67 426.17,334.17 422.83,335.83 421.67,335.83 421.67,330 422,323.33Z" fill="#2d63a6" stroke="#d9e8f3" stroke-opacity=".85" stroke-width=".6" stroke-linejoin="round" clip-path="url(#af)"/>
<path d="M432,317.5 436.17,313.33 440.33,314.17 442.83,317.5 442,322.5 438.67,325.83 434.5,325 432,320Z" fill="#2a8de3" stroke="#d9e8f3" stroke-opacity=".85" stroke-width=".6" stroke-linejoin="round" clip-path="url(#af)"/>
<path d="M415.33,340 419.5,338.33 421.67,335.83 422.83,335.83 426.17,334.17 430.33,331.67 433.67,328.33 434.5,325 438.67,325.83 440.33,329.17 441.33,332.5 445.33,334.17 443.67,343.33 435.33,355 417,355 413.67,346.67Z" fill="#2a8de3" stroke="#d9e8f3" stroke-opacity=".85" stroke-width=".6" stroke-linejoin="round" clip-path="url(#af)"/>
<path d="M433.67,340.83 435.67,340.33 436.67,342 435.67,343.67 433.67,343.33Z" fill="#2ecdd1" stroke="#d9e8f3" stroke-opacity=".85" stroke-width=".6" stroke-linejoin="round" clip-path="url(#af)"/>
<path d="M440.33,333.67 442,333.67 442,335.83 440.5,335.83Z" fill="#2ecdd1" stroke="#d9e8f3" stroke-opacity=".85" stroke-width=".6" stroke-linejoin="round" clip-path="url(#af)"/>
<path d="M472,305.33 473.67,307.5 473,313.33 471.33,320 469.67,326.67 467,332.5 464,333.33 461.67,330 462,324.17 463.67,319.17 462.83,315 466.17,312.5 469.5,309.17Z" fill="#2ecdd1" stroke="#2ecdd1" stroke-width="0.4" stroke-linejoin="round"/>
<path d="M421.5,113.75 427.75,111.88 434,111.25 439,112.5 439.62,114.38 443.3,115.25 448.3,116.5 453.3,118.6 456.7,121.1 457.5,123.6 455.4,125.25 451.7,124.8 447.9,124 445,123.2 443.75,124 445.4,126.1 446.7,128.2 448.75,129.8 450.8,131.5 451.7,131.9 454.2,130.7 455.8,129.8 455,128.2 456.7,126.9 458.75,125.25 461.25,124 462.9,120.7 463.3,118.6 465.4,119 466.25,121.9 468.3,122.75 470.8,120.25 473.3,119.4 476.7,118.6 480,117.75 483.3,118.2 486.7,117.3 490,116.5 492.5,115.25 493.75,115.25 501.25,117.75 505,120.25 503.75,111.5 506.25,105.25 511.25,104 513.75,109 512.5,117.75 511.25,124 515,122.75 516.25,115.25 515,109 518.75,106.5 522.5,110.25 526.25,107.75 530,104 536.25,101.5 540,97.75 547.5,94 557.5,90.25 567.5,89 576.25,91.5 582.5,94 583.75,97.75 577.5,101.5 572.5,103.5 580,102.75 590,104 590,103.75 597.5,102.81 604.06,101.88 610.63,104.69 612.5,109.38 618.13,108.44 625.63,109.38 630.31,106.56 635.94,105.63 644.38,108.44 653.75,111.25 662.19,112.19 666.88,115.94 674.38,115 681.88,115.94 689.38,114.06 696.88,115.94 704.38,119.69 706.66,120.68 709.37,122.71 713.43,123.39 716.41,125.42 713.43,128.8 709.37,130.16 705.31,128.12 701.25,129.48 698.54,130.83 695.83,133.54 690.41,136.25 685,138.96 679.58,140.31 674.16,141.67 672.13,143.02 670.78,146.4 669.42,149.79 668.07,153.85 665.36,158.59 662.65,162.65 659.95,166.04 658.59,165.36 657.64,159.27 657.91,153.85 659.95,149.11 663.33,145.73 667.39,141.67 670.78,138.28 672.13,135.98 669.42,136.25 664.69,138.28 659.27,139.63 655.21,142.34 651.82,145.05 645.73,144.37 638.96,145.05 633.54,146.4 629.48,149.11 625.42,153.18 622.03,156.56 627.5,158.13 631.25,161.88 632.19,167.5 630.5,171.25 628.5,175.62 626,179.5 622.88,183.25 619.75,185.75 616.62,186.5 615.12,185.25 615.75,187.5 613.25,192.5 609.5,196.25 610,197 612,202.5 609.5,207 606.5,206.25 605.25,201.25 605.75,197 604.75,193.5 602.75,194.5 600.25,197.5 598.75,194.5 595.25,194 592.25,196.5 594.5,200 600.25,201.25 596.5,205 598.25,211.25 600.75,217.5 597.5,220 594.72,224.17 591.94,227.64 587.78,231.11 583.61,233.19 579.44,235 577.36,235.97 576.39,238.06 574.58,235.97 573.19,235.28 572.38,238 571.75,240.25 573.62,244 575.5,247.75 576.12,251.5 574.88,255.25 572.38,257.75 569.88,260.5 568.62,259 568,256.5 565.5,255.25 564.25,253.38 562.38,252.12 561.12,253.38 559.5,253 560,256.5 560.25,260.25 561.75,262.75 563.62,265.88 565.5,268.38 567.38,271.5 568.75,274.62 568,276.75 565.5,277.12 563,274 560.75,270.88 558.62,267.12 557.25,262.75 556.88,259.62 557.62,256.5 557.38,254.62 556.12,250.25 554.25,245.88 552.38,245.25 551.12,242.12 548.62,239.62 546.75,235.88 545,233.75 541.25,233.75 539.38,235 536.25,238.75 531.25,244.38 526.88,248.12 525,252.5 523.75,258.75 521.5,263.25 520.38,262.5 518.12,256.88 515.62,250 513.75,242.5 513.12,237.12 510,236.5 507.5,233.75 506.88,230 502.5,226.88 498.75,227.25 495,226 490,226.62 485.25,225.75 483.75,224.38 480.62,224.75 476.25,223.5 473.12,220.38 470,216.62 469.38,217.88 470.62,221 473.12,224.75 475.62,226.62 476.88,225.75 477.75,228.5 479.38,229.75 481.88,228.75 483.5,226 484.75,229.12 488.12,231 489.75,232.88 488.12,236 486.25,239.12 483.12,242.25 478.75,244.12 476.25,246 471.88,249.12 466.88,251.62 463.12,252.88 461.25,251.62 460.62,247.88 459.38,244.75 456.88,241 454.38,236 451.88,230.38 449.38,225.38 447.5,221 446.88,218.5 447.5,215.75 447,211.88 447.75,207.5 448.62,203.75 449.88,201.5 448,201.75 445.5,201.62 440.5,202.25 435.5,201 432.12,198 431.75,192.5 434.62,190.25 432.5,189.75 430.25,190 427.75,190.62 426.75,193.12 425.5,192.25 425.25,194.38 427.12,196.5 428.75,197.5 427.75,200.25 425.88,201.25 423.75,200 422.25,196.88 421.12,193.12 419.75,190 419.62,187.5 418.38,186.25 416.5,185.25 414,182.75 412.12,180.62 410.25,179.38 409.62,178.12 408.38,177.75 406.5,178.12 407.75,180.62 410.25,184.38 414,188.12 417.12,191.25 418,193.75 415.5,193.12 414.62,195.62 413.38,198.12 411.75,195.62 412.12,192.5 409,189.38 405.88,185.62 402.75,183.5 400.25,182.75 399.5,183.88 396.75,184.75 393,185.75 390.5,187.75 389,190.88 387.12,193.12 385.75,195.5 384.88,197.75 383,199.62 380.25,201 377.75,202 375.88,201 374.5,201.5 371.25,200.12 370.38,197.38 370.88,193.12 369.88,189.88 370.38,186.62 374.5,185.25 380.12,185.75 383.75,187.12 384.38,183.12 384.62,178.75 381.5,176.25 378,173.5 382.75,171.88 384.62,169.38 388.38,167.5 391.75,168.5 393.38,165.62 396.75,162.5 398.38,161 400.88,158.75 400.88,155.62 401.25,151.88 402.75,150.62 404.62,151.88 404.25,155.62 405.88,157.75 409.62,158.5 412.12,158.5 417.75,157.25 422.75,156.88 423.38,153.75 422.75,153.12 423.38,150 427.12,148.75 425.25,145.62 428.38,144.38 433.38,144.75 435.25,143.12 433.38,141.88 427.75,142.5 424.62,141.25 423.38,137.5 424.62,133.38 427.75,129.88 429.12,127.75 426.38,127.12 424.25,129.12 421.5,132.62 418.75,136.12 418,139.62 417,143 418.38,145.25 417.5,148.75 414.62,151.5 413,155 409.62,155.62 407.75,151.88 406.75,149 404.25,148.5 401.75,149.75 397.5,148.5 395.25,143.12 395.25,138.12 398.38,135 402.75,133.12 407.12,129.38 410.88,123.75 413.38,120 416.5,116.88Z" fill="#2d63a6" stroke="#2d63a6" stroke-width=".4" stroke-linejoin="round"/>
<path d="M536.67,171.67 540,169.17 543.33,170.83 548.33,169.17 554.17,167.5 557.5,164.17 560.83,165 566.67,167.5 573.33,170 581.67,170.83 588,169.17 577,170 582,169.38 585.75,168.75 590.75,170 593.88,166.25 595.12,162.5 598.25,160.62 603.25,161.25 605.75,164.38 608.25,168.75 610.12,171.25 612.62,173.12 615.75,175 618.88,173.75 620.12,174.38 619.25,178.12 617,181.25 615.12,183.12 614.5,185.25 625,195 640,230 620,270 600,300 540,300 500,300 490,240 504.17,227.67 506.67,228.17 510,226.5 509.17,223.17 511.67,219 514.17,214.83 516.67,211.5 515.83,207.33 518.33,204 518.33,200.83 516.67,196.67 515,195.83 516.67,192.5 520,190 524.17,185.83 524.17,185.83 526.67,181.67 530.83,179.17 533.33,175.83Z" fill="#2ecdd1" stroke="#d9e8f3" stroke-opacity=".85" stroke-width=".6" stroke-linejoin="round" clip-path="url(#eu)"/>
<path d="M543.33,170.83 542.5,175 544.17,179.17 548.33,180.83 552.5,185 560,187.5 569.17,189.17 576.67,185 583.33,181.67 588,179.17" fill="none" stroke="#d9e8f3" stroke-opacity=".85" stroke-width=".6" stroke-linejoin="round" clip-path="url(#eu)"/>
<path d="M572,187.5 575.75,186.25 579.5,183.12 584.5,181.25 589.5,179.38 594.5,176.88 595.12,175 590.75,174.38 587.62,175 587,172.5 590.75,170" fill="none" stroke="#d9e8f3" stroke-opacity=".85" stroke-width=".6" stroke-linejoin="round" clip-path="url(#eu)"/>
<path d="M518.33,204 521.67,206.5 523.33,211.5 526.67,216.5" fill="none" stroke="#d9e8f3" stroke-opacity=".85" stroke-width=".6" stroke-linejoin="round" clip-path="url(#eu)"/>
<path d="M526.62,216 531.25,217.25 535.62,219.25 539.75,220.75 540,223.75 536.25,223.25 531.88,221.5 527.5,219.75 526,217.75Z" fill="#2a8de3" stroke="#2a8de3" stroke-width="0.4" stroke-linejoin="round" clip-path="url(#eu)"/>
<path d="M541.67,221 545,221.33 545,223 541.67,223Z" fill="#1f2a79" stroke="#d9e8f3" stroke-opacity=".85" stroke-width=".6" stroke-linejoin="round" clip-path="url(#eu)"/>
<path d="M540,222 541.67,221" fill="none" stroke="#d9e8f3" stroke-opacity=".85" stroke-width=".6" stroke-linejoin="round" clip-path="url(#eu)"/>
<path d="M545,222.33 551.67,219.83 555,218.17 556.67,221.5 560,223.17" fill="none" stroke="#d9e8f3" stroke-opacity=".85" stroke-width=".6" stroke-linejoin="round" clip-path="url(#eu)"/>
<path d="M540,224 540,225.67 544.17,225.33 547.5,226.5 548.33,231.5 547,234" fill="none" stroke="#d9e8f3" stroke-opacity=".85" stroke-width=".6" stroke-linejoin="round" clip-path="url(#eu)"/>
<path d="M540,225.67 540.33,227.67 541.67,230.67 544.17,233.67" fill="none" stroke="#d9e8f3" stroke-opacity=".85" stroke-width=".6" stroke-linejoin="round" clip-path="url(#eu)"/>
<path d="M556.67,221.5 554.17,225.67 552.5,229.83 550,232.33 548.33,231.5" fill="none" stroke="#d9e8f3" stroke-opacity=".85" stroke-width=".6" stroke-linejoin="round" clip-path="url(#eu)"/>
<path d="M560,223.17 560.83,228.17 563.33,232.33 565.83,231.5 568.33,234 571.67,233.17 574.17,235.67 576.67,234.83" fill="none" stroke="#d9e8f3" stroke-opacity=".85" stroke-width=".6" stroke-linejoin="round" clip-path="url(#eu)"/>
<path d="M562.38,242.75 563.62,239 562.38,235.88 564.88,234 568,235.25 570.5,233.38 572.38,237.75" fill="none" stroke="#d9e8f3" stroke-opacity=".85" stroke-width=".6" stroke-linejoin="round" clip-path="url(#eu)"/>
<path d="M568,235.25 569.88,239 571.12,242.75 573,245.88 573.62,249 572.38,250.88 568.62,250.25" fill="none" stroke="#d9e8f3" stroke-opacity=".85" stroke-width=".6" stroke-linejoin="round" clip-path="url(#eu)"/>
<path d="M572.38,250.88 573.62,253.38 571.75,256.5 569.88,260.25" fill="none" stroke="#d9e8f3" stroke-opacity=".85" stroke-width=".6" stroke-linejoin="round" clip-path="url(#eu)"/>
<path d="M557.38,239 559.88,238.38 561.75,240.25 562.38,242.75 565.5,242.75 568,244.62 568.62,247.75 566.12,249.62 564.25,254 562.38,252.75 561.12,254 560.75,256.5 561.12,261.5 564.25,265.88 561.75,267.75 558.62,267.75 555.5,261.5 556.5,257.75 557.38,254.62 558.62,250.25 558,246.5 556.75,242.75Z" fill="#2d63a6" stroke="#d9e8f3" stroke-opacity=".85" stroke-width=".6" stroke-linejoin="round" clip-path="url(#eu)"/>
<path d="M552.38,244 556.12,245.5 558,250.88 558.38,255.25 558,260.5 556.25,261.75 555.25,257.75 555.75,254 554.5,249.62Z" fill="#2ecdd1" stroke="#2ecdd1" stroke-width="0.4" stroke-linejoin="round" clip-path="url(#eu)"/>
<path d="M560.75,267.5 564.5,265.88 568,270.88 569.88,276.5 565.5,278.38 562.38,274.62 559.88,270.88Z" fill="#2d63a6" stroke="#d9e8f3" stroke-opacity=".85" stroke-width=".6" stroke-linejoin="round" clip-path="url(#eu)"/>
<path d="M614.5,185.25 616.38,186.5 613.25,190 610.75,192.5 608.5,195.62 609.5,198.75 603.88,198.12 603.25,195 604.25,193.5 606.38,191.88 609.5,190 612,187.5Z" fill="#d9dbde" stroke="#d9e8f3" stroke-opacity=".85" stroke-width=".6" stroke-linejoin="round" clip-path="url(#eu)"/>
<path d="M603.88,198.12 609.5,198.12 613.25,200 613.25,205 605.75,205 605.5,201.25Z" fill="#2a8de3" stroke="#d9e8f3" stroke-opacity=".85" stroke-width=".6" stroke-linejoin="round" clip-path="url(#eu)"/>
<path d="M467.5,170.83 471.67,167.5 478.33,165.83 485,166.67 490.83,165 493.33,160 500,157.5 506.67,155.83 511.67,158.33 517.5,159.17 522.5,163.33 527.5,166.67 533.33,168.33 536.67,171.67 533.33,175.83 530.83,179.17 526.67,181.67 524.17,185.83 516.67,186.67 510,187.5 505,190 501.67,186.67 497.5,184.17 491.67,180.83 486.67,181.67 483.33,186.67 481.67,188.33 476.67,188.33 474.17,184.17 474.17,180 470,180 468.33,175.83Z" fill="#1f2a79" stroke="#d9e8f3" stroke-opacity=".85" stroke-width=".6" stroke-linejoin="round" clip-path="url(#eu)"/>
<path d="M474.88,185 478.62,186.88 481.75,186.88 483.62,182.5 486.12,180 490.5,180.62 495.5,183.75 500.5,186.25 504.25,190 508,188.75 509.25,187.5 514.25,188.12 519.25,186.88 524.25,185.62 520.75,190 517.38,192.5 515.5,195 517.38,196.5 514.25,199.38 511.12,198.75 508,197.5 503,198.75 498,200 494.25,202.5 491.12,201.5 488,199.38 483,198.12 479.88,196.88 477.38,196.88 474.88,191.25Z" fill="#2a8de3" stroke="#d9e8f3" stroke-opacity=".85" stroke-width=".6" stroke-linejoin="round" clip-path="url(#eu)"/>
<path d="M483.62,182.5 488,181.25 491.12,183.75 494.25,188.75 499.25,191.25 503,194.38 501.12,196.88 498,200" fill="none" stroke="#d9e8f3" stroke-opacity=".85" stroke-width=".6" stroke-linejoin="round" clip-path="url(#eu)"/>
<path d="M504.25,190 506.75,193.12 503,194.38" fill="none" stroke="#d9e8f3" stroke-opacity=".85" stroke-width=".6" stroke-linejoin="round" clip-path="url(#eu)"/>
<path d="M506.75,193.12 510.5,190.62 515.5,191.88 517.38,192.5" fill="none" stroke="#d9e8f3" stroke-opacity=".85" stroke-width=".6" stroke-linejoin="round" clip-path="url(#eu)"/>
<path d="M504.25,194.38 508,195 513,194.38 515.5,195" fill="none" stroke="#d9e8f3" stroke-opacity=".85" stroke-width=".6" stroke-linejoin="round" clip-path="url(#eu)"/>
<path d="M463.62,196.88 466.75,195 469.88,196 472.38,195 473,198.75 476.12,200.62 479.25,200 483,198.12 488,199.38 491.12,201.88 492.38,206.25 491.75,211.25 493.62,214.38 496.12,218.12 496.12,222.5 490.5,223.75 485.5,225 480.5,222.5 475.5,219.38 471.75,215.62 469.88,210 468,205 465.5,201.25Z" fill="#2a8de3" stroke="#d9e8f3" stroke-opacity=".85" stroke-width=".6" stroke-linejoin="round" clip-path="url(#eu)"/>
<path d="M495,217.5 498.75,216.25 502.5,213.75 506.25,211.25 508.12,208.75 510.62,205.62 510,203.12 511.25,200 514.38,199.38 517.12,201.5 515.62,204.38 516.25,206.88 516.88,210 515,213.12 512.5,216.25 510.62,219.38 510,222.5 508.12,225.62 506.88,229.38 503.75,229.38 500.62,228.75 496.25,229.38 494,225.62 495.62,221.88 495,219.38Z" fill="#2a8de3" stroke="#d9e8f3" stroke-opacity=".85" stroke-width=".6" stroke-linejoin="round" clip-path="url(#eu)"/>
<path d="M491.88,206.88 493.75,203.75 497.5,201.88 501.88,200.62 506.25,199.38 509.38,198.12 511.88,198.75 515.25,197.88 515.5,198.75 511.25,200.25 510,203.12 510.62,205.62 508.12,208.75 506.25,211.25 502.5,213.75 498.75,216.25 495,217.5 492.5,215 491.88,211.25Z" fill="#2ecdd1" stroke="#d9e8f3" stroke-opacity=".85" stroke-width=".6" stroke-linejoin="round" clip-path="url(#eu)"/>
<path d="M429.25,191.25 437.38,190 441.75,188.75 446.75,188.12 453,190 457.75,190 461.75,191.88 464.25,194.38 463.62,196.88 459.25,198.75 453,199.38 449.25,201.88 445.5,202.5 440.5,202.75 434.25,201.88 429.25,198.75Z" fill="#2a8de3" stroke="#d9e8f3" stroke-opacity=".85" stroke-width=".6" stroke-linejoin="round" clip-path="url(#eu)"/>
<path d="M432.12,187.25 435.88,187.5 437.12,189.75 434,190.62 432.12,189.75Z" fill="#2a8de3" stroke="#d9e8f3" stroke-opacity=".85" stroke-width=".6" stroke-linejoin="round" clip-path="url(#eu)"/>
<path d="M456.12,187.5 461.75,188.12 465.5,190 464.25,191.25 461.75,191.5 458,190.62Z" fill="#2a8de3" stroke="#d9e8f3" stroke-opacity=".85" stroke-width=".6" stroke-linejoin="round" clip-path="url(#eu)"/>
<path d="M465.5,190 469.25,190.62 473,193.75 472.38,195 469.88,196 466.75,194.75 465.5,193.12 464.25,191.25Z" fill="#2a8de3" stroke="#d9e8f3" stroke-opacity=".85" stroke-width=".6" stroke-linejoin="round" clip-path="url(#eu)"/>
<path d="M462,191.75 464.5,191.5 465.75,193.5 466.75,194.75 464.25,194.38Z" fill="#1f2a79" stroke="#d9e8f3" stroke-opacity=".85" stroke-width=".6" stroke-linejoin="round" clip-path="url(#eu)"/>
<path d="M459.25,199 463.62,197.25 465.5,201.25 468,205 469.88,210 471.75,215.25 468.62,216.88 464.25,215.62 458.62,211.88 454.88,210 453,207.5 454.88,206.25 458.62,203.12Z" fill="#2ecdd1" stroke="#d9e8f3" stroke-opacity=".85" stroke-width=".6" stroke-linejoin="round" clip-path="url(#eu)"/>
<path d="M448.62,201.88 453,200 459.25,199" fill="none" stroke="#d9e8f3" stroke-opacity=".85" stroke-width=".6" stroke-linejoin="round" clip-path="url(#eu)"/>
<path d="M454.88,206.25 451.12,208.12 449.25,206.25" fill="none" stroke="#d9e8f3" stroke-opacity=".85" stroke-width=".6" stroke-linejoin="round" clip-path="url(#eu)"/>
<path d="M445.5,205.62 449.25,206 451.12,208.12 454.88,206.25 453,207.5 454.88,210 458.62,211.88 464.25,215.62 468.62,216.88 471.75,215.25 473,220 480.5,223.75 493,223.75 498,240 480.5,250 465.5,250 446.75,220Z" fill="#1f2a79" stroke="#d9e8f3" stroke-opacity=".85" stroke-width=".6" stroke-linejoin="round" clip-path="url(#eu)"/>
<path d="M449.25,215 451.75,213.12 454.88,210" fill="none" stroke="#d9e8f3" stroke-opacity=".85" stroke-width=".6" stroke-linejoin="round" clip-path="url(#eu)"/>
<path d="M448.62,207.5 449.25,211.25 448.62,215" fill="none" stroke="#d9e8f3" stroke-opacity=".85" stroke-width=".6" stroke-linejoin="round" clip-path="url(#eu)"/>
<path d="M468.62,216.88 469.88,218.5 472,218.12" fill="none" stroke="#d9e8f3" stroke-opacity=".85" stroke-width=".6" stroke-linejoin="round" clip-path="url(#eu)"/>
<path d="M460,247.88 461.25,244.75 465,243.5 470,244.12 473.12,242.25 476.88,241 479,244.12 477.5,247.25 471.88,250.38 466.88,252.88 463.12,254.12 460,252.88Z" fill="#2a8de3" stroke="#d9e8f3" stroke-opacity=".85" stroke-width=".6" stroke-linejoin="round" clip-path="url(#eu)"/>
<path d="M477.5,228.5 480,231.62 483.12,231 484,228.5" fill="none" stroke="#d9e8f3" stroke-opacity=".85" stroke-width=".6" stroke-linejoin="round" clip-path="url(#eu)"/>
<path d="M483.12,231 482.5,236 477.5,240.38 476.88,241" fill="none" stroke="#d9e8f3" stroke-opacity=".85" stroke-width=".6" stroke-linejoin="round" clip-path="url(#eu)"/>
<path d="M468.62,181.88 470.5,178.75 474.25,177.25 478,177.75 477.38,180 474.25,181.25 473.62,183.75 476.12,186.25 477.38,189.38 478.62,193.12 479.88,196.88 479.25,200 476.12,200.62 473,198.75 472.38,195 471.12,191.25 469.88,187.5 468.62,185Z" fill="#ffffff" stroke="#ffffff" stroke-width="0.4" stroke-linejoin="round"/>
<path d="M435.5,182.5 438,179.38 440.5,178.12 443.62,180 445.5,182.12 448,181.5 446.75,179.38 448.62,177.5 451.75,178.5 451.5,181 449.88,183.12 454.88,185.62 458,188.5 457.75,190.38 453,190.75 446.75,189.12 441.75,189.75 437.38,190.75 434.88,188.75 434.25,185.62Z" fill="#ffffff" stroke="#ffffff" stroke-width="0.4" stroke-linejoin="round"/>
<path d="M525,260.33 527.5,261.33 528.33,265.17 526.67,267 525,265.17Z" fill="#2a8de3" stroke="#2a8de3" stroke-width="0.4" stroke-linejoin="round"/>
<path d="M595.83,227.64 597.5,226.94 597.78,231.11 596.39,232.22Z" fill="#d9dbde" stroke="#d9dbde" stroke-width="0.4" stroke-linejoin="round"/>
<path d="M575.28,238.75 578.06,238.06 578.75,240.14 576.67,241.53 575,240.56Z" fill="#2ecdd1" stroke="#2ecdd1" stroke-width="0.4" stroke-linejoin="round"/>
<path d="M633.25,158.75 634.5,162.5 635.75,167.5 636.5,171.25 635.25,175 634.25,176.88 634.5,171.25 633.5,166.25 632.88,162.5Z" fill="#2d63a6" stroke="#2d63a6" stroke-width="1.2" stroke-linejoin="round"/>
<path d="M632.62,182.5 635.75,183.12 639.25,185 637,187.5 633.88,188.12 632.25,185.62Z" fill="#2a8de3" stroke="#2a8de3" stroke-width="1.3" stroke-linejoin="round"/>
<path d="M631.38,191.25 633,193.12 632.62,197.5 630.75,201.25 627.62,203.75 623.88,205.62 620.12,206.88 616.38,207.5 614.5,208.75 613.25,207.5 616.38,205 620.75,203.75 624.5,201.25 627.62,199.38 629.5,196.25 630.12,193.12Z" fill="#2a8de3" stroke="#2a8de3" stroke-width="1.3" stroke-linejoin="round"/>
<path d="M612.62,208.12 615.12,209.38 614.5,212.5 612.62,213.12 612,210.62Z" fill="#2a8de3" stroke="#2a8de3" stroke-width="1.3" stroke-linejoin="round"/>
<path d="M617,208.12 621,207 621.38,208.12 617.62,209.12Z" fill="#2a8de3" stroke="#2a8de3" stroke-width="1.3" stroke-linejoin="round"/>
<path d="M477.5,107.75 480,101.5 486.25,96.5 495,92.75 503.75,91 505.5,92.75 498.75,95.25 491.25,99 485,104 483.75,109 486.25,111.5 481.25,112Z" fill="#2d63a6" stroke="#2d63a6" stroke-width="0.4" stroke-linejoin="round"/>
<path d="M546.25,80.25 551.25,76.5 556.25,79 557.5,82.75 552.5,84 547.5,82.75Z" fill="#2d63a6" stroke="#2d63a6" stroke-width="0.4" stroke-linejoin="round"/>
<path d="M560,84 565,83.5 568.75,86 563.75,87Z" fill="#2d63a6" stroke="#2d63a6" stroke-width="0.4" stroke-linejoin="round"/>
<path d="M466.25,78.5 471.25,77 473.75,79 468.75,80Z" fill="#2d63a6" stroke="#2d63a6" stroke-width="0.4" stroke-linejoin="round"/>
<path d="M480,77 486.25,75 490,77 485,79Z" fill="#2d63a6" stroke="#2d63a6" stroke-width="0.4" stroke-linejoin="round"/>
<path d="M491.25,76 498.75,75.5 500,78 493.75,79Z" fill="#2d63a6" stroke="#2d63a6" stroke-width="0.4" stroke-linejoin="round"/>
<path d="M625.75,96 630.75,94 637,95.25 638.25,97.75 632,99 627,98.5Z" fill="#2d63a6" stroke="#2d63a6" stroke-width="0.4" stroke-linejoin="round"/>
<path d="M642,96.5 648.25,96.5 648.25,98.25 642.5,98.25Z" fill="#2d63a6" stroke="#2d63a6" stroke-width="0.4" stroke-linejoin="round"/>
<path d="M698.25,109 704.5,109.25 704.5,111 698.75,111Z" fill="#2d63a6" stroke="#2d63a6" stroke-width="0.4" stroke-linejoin="round"/>
<path d="M367.75,183.75 380.25,185 383.75,187.12 390.5,188 393,185.5 395.88,184.12 399.25,183.25 398.38,180.62 401.5,178.12 405.88,177.5 409,176.88 413.38,176.25 414,174.38 413.38,173.12 408.38,173.75 409.62,173.12 408.38,170 410.25,167.5 410.88,163.75 411.5,158.75 409.62,156.88 405.88,156.88 404.25,155.62 401.5,157.5 397.75,160 392.75,163.75 387.75,166.25 382.75,170.62 376.5,172.5 376.5,175 382.75,178.75 382.75,183.75Z" fill="#1f2a79" stroke="#d9e8f3" stroke-opacity=".85" stroke-width=".6" stroke-linejoin="round" clip-path="url(#eu)"/>
<path d="M367.75,183.75 380.25,184.75 383.75,187.12 390.5,188 392.12,188.75 390.88,192.5 386.5,200 380.25,203.75 374,203.75 373.75,200 374.25,195.62 374.62,190 370.25,189Z" fill="#1f2a79" stroke="#d9e8f3" stroke-opacity=".85" stroke-width=".6" stroke-linejoin="round" clip-path="url(#eu)"/>
<path d="M367.75,189 370.25,189 374.62,190 374.25,195.62 373.75,200 371.5,202.5 367.75,202.5Z" fill="#2d63a6" stroke="#d9e8f3" stroke-opacity=".85" stroke-width=".6" stroke-linejoin="round" clip-path="url(#eu)"/>
<path d="M392.12,168.75 395.88,170.62 399,173.12 397.75,176.88 398.38,180.62" fill="none" stroke="#d9e8f3" stroke-opacity=".85" stroke-width=".6" stroke-linejoin="round" clip-path="url(#eu)"/>
<path d="M399,173.12 401.5,174.38 406.5,174.38 409.62,173.12" fill="none" stroke="#d9e8f3" stroke-opacity=".85" stroke-width=".6" stroke-linejoin="round" clip-path="url(#eu)"/>
<path d="M397.75,175 404,174.75 404.62,176.88" fill="none" stroke="#d9e8f3" stroke-opacity=".85" stroke-width=".6" stroke-linejoin="round" clip-path="url(#eu)"/>
<path d="M393.38,165.62 396.5,166.25 397.75,170" fill="none" stroke="#d9e8f3" stroke-opacity=".85" stroke-width=".6" stroke-linejoin="round" clip-path="url(#eu)"/>
<path d="M408.38,177.25 413.38,176 417.75,177.75 420.5,179 420.25,180 416.5,180.25 414.25,179.75 413.75,181.25 416.75,184.75 419.62,187.25 415.88,186.88 411.5,181.88 409.62,179.75Z" fill="#1f2a79" stroke="#d9e8f3" stroke-opacity=".85" stroke-width=".6" stroke-linejoin="round" clip-path="url(#eu)"/>
<path d="M414,180 419,180 420.25,183.12 418.62,185.88 415.88,183.75 414,181.5Z" fill="#2ecdd1" stroke="#d9e8f3" stroke-opacity=".85" stroke-width=".6" stroke-linejoin="round" clip-path="url(#eu)"/>
<path d="M410.88,157.5 417.75,156.25 425.25,157.75 427.75,161.25 427.12,166.25 428.38,169.38 424,170.62 419,170 414,168.12 410.88,166.25 410.88,162.5Z" fill="#2a8de3" stroke="#d9e8f3" stroke-opacity=".85" stroke-width=".6" stroke-linejoin="round" clip-path="url(#eu)"/>
<path d="M408.38,168.75 414,168.12 419,170 424,170.62 425.5,171.5 422.75,173.12 425.25,174.38 422.75,177.5 417.75,178.12 414.62,176.25 414,174.38 413.38,173.12 410.25,172.12Z" fill="#2a8de3" stroke="#d9e8f3" stroke-opacity=".85" stroke-width=".6" stroke-linejoin="round" clip-path="url(#eu)"/>
<path d="M414.62,171.88 417.75,170" fill="none" stroke="#d9e8f3" stroke-opacity=".85" stroke-width=".6" stroke-linejoin="round" clip-path="url(#eu)"/>
<path d="M414.62,172.25 416.5,173.38 422.75,173.12" fill="none" stroke="#d9e8f3" stroke-opacity=".85" stroke-width=".6" stroke-linejoin="round" clip-path="url(#eu)"/>
<path d="M422.75,177.5 425.88,174.38 431.5,173.5 435.25,174.38 438.38,180 437.12,181.25 435.88,186.25 433.38,187.75 429,188.25 425.88,187 425.88,182.75 424,179.38Z" fill="#2a8de3" stroke="#d9e8f3" stroke-opacity=".85" stroke-width=".6" stroke-linejoin="round" clip-path="url(#eu)"/>
<path d="M425.88,183 429,183.38 434.62,182.62 437.12,181.25" fill="none" stroke="#d9e8f3" stroke-opacity=".85" stroke-width=".6" stroke-linejoin="round" clip-path="url(#eu)"/>
<path d="M434.62,174.38 436.25,175 438.75,179.75 437.5,180 435.88,177.25Z" fill="#1f2a79" stroke="#d9e8f3" stroke-opacity=".85" stroke-width=".6" stroke-linejoin="round" clip-path="url(#eu)"/>
<path d="M419.62,187 422.12,187.5 425.88,187 426.5,188.75 424.62,189.75 422.12,190.25 421.5,192.5 419.75,190.25Z" fill="#2a8de3" stroke="#d9e8f3" stroke-opacity=".85" stroke-width=".6" stroke-linejoin="round" clip-path="url(#eu)"/>
<path d="M421.5,192.5 422.12,190.25 424.62,189.75 426.5,188.75 429,188.25 433.38,187.5" fill="none" stroke="#d9e8f3" stroke-opacity=".85" stroke-width=".6" stroke-linejoin="round" clip-path="url(#eu)"/>
<path d="M425.88,170 429,166.88 434,166.25 439,165 444,164.38 450.25,167.5 454.62,170 454,174.38 450.25,176.88 446.5,178.12 449,180 446.5,182.25 443.75,181.25 444,179 441.5,178.12 439,180 437.5,179.75 435.88,176.5 431.5,173.5 425.88,174 425.25,171.5Z" fill="#1f2a79" stroke="#d9e8f3" stroke-opacity=".85" stroke-width=".6" stroke-linejoin="round" clip-path="url(#eu)"/>
<path d="M427.75,161.25 430.25,156.88 435.25,154.38 440.25,156.25 442.12,160.62 444,164.38 439,165 434,166.25 429,166.88 427.12,165Z" fill="#1f2a79" stroke="#d9e8f3" stroke-opacity=".85" stroke-width=".6" stroke-linejoin="round" clip-path="url(#eu)"/>
<path d="M421.5,149.38 427.12,148.5 434,148.12 435.5,151.25 434,154 429,153.5 425.88,152.5 422.12,153.75Z" fill="#1f2a79" stroke="#d9e8f3" stroke-opacity=".85" stroke-width=".6" stroke-linejoin="round" clip-path="url(#eu)"/>
<path d="M424.62,145.25 428.38,144 433.75,144.5 434.25,148.12 430.88,149.38 427.12,148.75Z" fill="#1f2a79" stroke="#d9e8f3" stroke-opacity=".85" stroke-width=".6" stroke-linejoin="round" clip-path="url(#eu)"/>
<path d="M391.5,152.5 394,135 402.75,131.25 410.88,122.5 416.5,115.62 421.5,112.5 427.75,110.62 434,110 440.25,111.88 440.25,115 436.5,114.75 433.38,114 430.88,115.62 425.88,116.25 427.12,120 427.5,125 426.5,128.12 421.5,133.12 419,136.88 418.38,140 417.5,143 419,145.25 418.38,149.38 415.25,152.5 413.75,156.5 405.88,156.5Z" fill="#1f2a79" stroke="#d9e8f3" stroke-opacity=".85" stroke-width=".6" stroke-linejoin="round" clip-path="url(#eu)"/>
<path d="M407.25,151.25 406.5,148.75 406.25,142.5 407.12,136.25 409,131.88 412.12,126.88 414.62,122.5 417.75,120 421.5,117.5 425.88,116.25" fill="none" stroke="#d9e8f3" stroke-opacity=".85" stroke-width=".6" stroke-linejoin="round" clip-path="url(#eu)"/>
<path d="M436.5,114.75 437.75,118.75 437.12,123.12 439,127.5 440.25,132.5 440.88,135.62 437.75,139.38 435.25,143.12" fill="none" stroke="#d9e8f3" stroke-opacity=".85" stroke-width=".6" stroke-linejoin="round" clip-path="url(#eu)"/>
<path d="M435.25,143.12 434,148.12 435.5,151.25 434.62,155" fill="none" stroke="#d9e8f3" stroke-opacity=".85" stroke-width=".6" stroke-linejoin="round" clip-path="url(#eu)"/>
<path d="M399.62,147.5 405.88,147.5 405.88,156 404.25,156.5 400.62,156.5Z" fill="#2a8de3" stroke="#d9e8f3" stroke-opacity=".85" stroke-width=".6" stroke-linejoin="round" clip-path="url(#eu)"/>
<path d="M378,148 381.67,147 383.67,150 382.5,153.67 385,156.67 387,160 388.67,163.67 387.5,166.33 383.67,167.5 378.67,168 377,166.67 380,164.17 378,162 379.67,159.17 377.5,156.67 378.67,153.67 376.33,151.67Z" fill="#1f2a79" stroke="#1f2a79" stroke-width="0.4" stroke-linejoin="round"/>
<path d="M368.67,160 370.83,158 374.67,157.5 375.83,160 375,163 371.67,165 368.67,163.67Z" fill="#1f2a79" stroke="#1f2a79" stroke-width="0.4" stroke-linejoin="round"/>
<path d="M408.38,198.12 413.38,197.75 413,199.75 410.25,200.25Z" fill="#2d63a6" stroke="#2d63a6" stroke-width="0.4" stroke-linejoin="round"/>
<path d="M400.88,187.12 402.75,186.88 403,194.38 401.12,195Z" fill="#2d63a6" stroke="#2d63a6" stroke-width="0.4" stroke-linejoin="round"/>
<path d="M401,183.25 402.12,183 402.25,186.25 401.25,186.25Z" fill="#1f2a79" stroke="#1f2a79" stroke-width="0.4" stroke-linejoin="round"/>
<path d="M426.5,202.5 431.5,202.5 431.5,203.38 426.5,203.38Z" fill="#2d63a6" stroke="#2d63a6" stroke-width="0.4" stroke-linejoin="round"/>
<path d="M442,203.75 445.25,203.25 445,205 442.25,205.12Z" fill="#1f2a79" stroke="#1f2a79" stroke-width="0.4" stroke-linejoin="round"/>
<path d="M404.83,82.5 410.67,80.83 419,80 432.33,80.83 430.67,83.33 425.67,85 427.33,88.33 423.17,89.17 417.33,87.5 415.67,90.83 412.33,90.83 410.67,86.67 405.67,85Z" fill="#e6e8ea" stroke="#e6e8ea" stroke-width="0.4" stroke-linejoin="round"/>
<path d="M552.17,269.17 555.5,268.67 559.67,272.5 563.83,276.67 567.17,280.83 569.67,285 571,290 568.83,291.67 565.5,289.17 562.17,285 558.83,280.83 555.5,275.83 553,272.5Z" fill="#2ecdd1" stroke="#2ecdd1" stroke-width="1.4" stroke-linejoin="round"/>
<path d="M570.5,292.5 574.67,293 580.5,294.17 586.33,295.33 591.33,296.67 590.5,298.33 585.5,297.5 578.83,296.33 573,295.33 570.5,294.17Z" fill="#2ecdd1" stroke="#2ecdd1" stroke-width="1.4" stroke-linejoin="round"/>
<path d="M593.83,297.5 598.83,297 604.67,297.5 603.83,299.17 598,299.17 594.33,298.83Z" fill="#2ecdd1" stroke="#2ecdd1" stroke-width="1.4" stroke-linejoin="round"/>
<path d="M603,300.33 608.83,298.33 609.33,299.5 603.83,301.33Z" fill="#2ecdd1" stroke="#2ecdd1" stroke-width="1.4" stroke-linejoin="round"/>
<path d="M577.17,276.67 580.5,273.33 583.83,270.83 587.17,267.5 590.5,265.83 593,267.5 591.67,270.83 590.5,275 591,279.17 588.83,284.17 585.5,287.5 581.33,287.5 578.83,285 577.17,280.83Z" fill="#2ecdd1" stroke="#2ecdd1" stroke-width="1.4" stroke-linejoin="round"/>
<path d="M577.17,276.67 580.5,273.33 583.83,270.83 587.17,267.5 590.5,265.83 593,267.5 591.67,270.83 588,271.33 585,273.33 582.17,275.83 579.67,277.5Z" fill="#2d63a6" stroke="#2d63a6" stroke-width="1.4" stroke-linejoin="round"/>
<path d="M593.83,280.83 596.33,279.17 601.33,278.67 604.67,279.67 601.33,280.83 598,281.33 598.83,284.17 601.33,286.67 599.67,289.17 597.67,285.83 596.33,287.5 596.67,290.83 594.67,290.83 593.83,285.83Z" fill="#2ecdd1" stroke="#2ecdd1" stroke-width="1.4" stroke-linejoin="round"/>
<path d="M606,278.33 607.67,278 608.33,282.5 606.67,283.33Z" fill="#2ecdd1" stroke="#2ecdd1" stroke-width="1.4" stroke-linejoin="round"/>
<path d="M605.5,285.83 610.5,285.33 610.67,286.67 605.83,287.33Z" fill="#2ecdd1" stroke="#2ecdd1" stroke-width="1.4" stroke-linejoin="round"/>
<path d="M596.39,240.83 598.61,241.53 599.17,245.69 598.19,249.17 600.28,251.94 603.06,254.03 604.17,256.81 602.36,256.81 600.28,254.72 597.78,252.64 595.83,248.47 595.42,244.31Z" fill="#2ecdd1" stroke="#2ecdd1" stroke-width="1.4" stroke-linejoin="round"/>
<path d="M599.58,257.5 601.67,256.81 603.75,258.19 604.44,260.28 602.36,260.97 600.28,259.58Z" fill="#2ecdd1" stroke="#2ecdd1" stroke-width="1.4" stroke-linejoin="round"/>
<path d="M601.67,261.67 604.44,260.28 606.53,262.36 605.83,265.83 603.06,266.53 601.67,264.44Z" fill="#2ecdd1" stroke="#2ecdd1" stroke-width="1.4" stroke-linejoin="round"/>
<path d="M591.25,261.67 594.72,257.5 595.42,258.19 592.22,262.36Z" fill="#2ecdd1" stroke="#2ecdd1" stroke-width="1.4" stroke-linejoin="round"/>
<path d="M613.83,282 618,280.83 621.33,283.33 625.5,284.17 631.33,285.83 636.33,287.5 640.5,290 643,292.5 646.33,295.83 648.33,300.33 644.67,299.17 640.5,296.67 636.33,297.5 632.17,298.67 628,296.67 624.67,294.17 621.33,290.83 618,288.33 615.5,285.83 614.33,284.17Z" fill="#2ecdd1" stroke="#2ecdd1" stroke-width="1.4" stroke-linejoin="round"/>
<path d="M631.33,285.83 631.33,298.67" fill="none" stroke="#d9e8f3" stroke-opacity=".85" stroke-width=".6" stroke-linejoin="round"/>
<path d="M646.33,290.5 649.67,289.67 652.33,287.67 652.67,288.67 650,291 646.67,291.67Z" fill="#2ecdd1" stroke="#2ecdd1" stroke-width="1.4" stroke-linejoin="round"/>
<path d="M656,292 657.5,292.67 657.17,293.5 655.67,292.83Z" fill="#2a8de3" stroke="#2a8de3" stroke-width="1.4" stroke-linejoin="round"/>
<path d="M658.33,293.67 659.83,294.33 659.5,295.17 658,294.5Z" fill="#2a8de3" stroke="#2a8de3" stroke-width="1.4" stroke-linejoin="round"/>
<path d="M660.67,295.33 662.17,296 661.83,296.83 660.33,296.17Z" fill="#2a8de3" stroke="#2a8de3" stroke-width="1.4" stroke-linejoin="round"/>
<path d="M663.33,297.33 664.83,298 664.5,298.83 663,298.17Z" fill="#2a8de3" stroke="#2a8de3" stroke-width="1.4" stroke-linejoin="round"/>
<path d="M665.67,299.33 667.17,300 666.83,300.83 665.33,300.17Z" fill="#2a8de3" stroke="#2a8de3" stroke-width="1.4" stroke-linejoin="round"/>
<path d="M667.33,301 668.83,301.67 668.5,302.5 667,301.83Z" fill="#2a8de3" stroke="#2a8de3" stroke-width="1.4" stroke-linejoin="round"/>
<path d="M583.5,331.83 584.33,327.67 588.5,323.5 593.5,321 598.5,318.5 601,314.33 605.17,309.33 609.33,310.17 611.83,307.67 613.5,303.5 617.67,304 621,305.17 623.5,306 624.33,310.17 626.83,313.5 630.17,316 631.83,313.5 632.67,308.5 634.33,302.67 636,307.67 638.5,312.67 640.17,316.83 643.5,321 646.83,325.17 650.17,330.17 652.67,336 653,342.67 651.83,348.5 649.33,355.17 646.83,360.17 642.67,362.33 638.5,362.67 634.33,361 631.83,357.67 629.33,354.33 626.83,352.67 626,355.17 624.33,351.83 621.83,349.33 617.67,346.83 611.83,346 606,346.83 601,349.33 596,351.83 591,354.33 587.33,353.5 586.83,349.33 585.17,343.5 583.5,337.67Z" fill="#1f2a79" stroke="#1f2a79" stroke-width="0.4" stroke-linejoin="round"/>
<path d="M638.75,368.5 645,368.5 643.75,373.5 640.5,374Z" fill="#1f2a79" stroke="#1f2a79" stroke-width="0.4" stroke-linejoin="round"/>
<path d="M688,354 690,357.25 692.5,361.5 697,361.5 695,366 690,369 687.5,366 689.5,362.25 687.5,357.25Z" fill="#1f2a79" stroke="#1f2a79" stroke-width="1.2" stroke-linejoin="round"/>
<path d="M688,368.5 690,370.5 686.25,374.75 682.5,379 678,381.5 676.25,379.75 680,375.5 684.5,371Z" fill="#1f2a79" stroke="#1f2a79" stroke-width="1.2" stroke-linejoin="round"/>
<path d="M675.5,310 677.3,310.5 677.5,313 675.8,312.5Z" fill="#2a8de3" stroke="#2a8de3" stroke-width="0.4" stroke-linejoin="round"/>
<path d="M695,315 697.8,314.6 698,316.8 695.3,317Z" fill="#2a8de3" stroke="#2a8de3" stroke-width="0.4" stroke-linejoin="round"/>
<path d="M671,322 673,322 677,325.5 675,326Z" fill="#d9dbde" stroke="#d9dbde" stroke-width="0.4" stroke-linejoin="round"/>
</svg>
<div class="lg" style="top:285.5px;background:#1f2a79"></div><div class="lt" style="top:284px">10%+</div>
<div class="lg" style="top:310px;background:#2d63a6"></div><div class="lt" style="top:309.5px">5-10%</div>
<div class="lg" style="top:333px;background:#2a8de3"></div><div class="lt" style="top:334.5px">1-5%</div>
<div class="lg" style="top:356px;background:#2ecdd1"></div><div class="lt" style="top:362.5px">0-1%</div>
<div id="src">Source: UN (2015), IMF staff calculations.</div>
</body></html>
